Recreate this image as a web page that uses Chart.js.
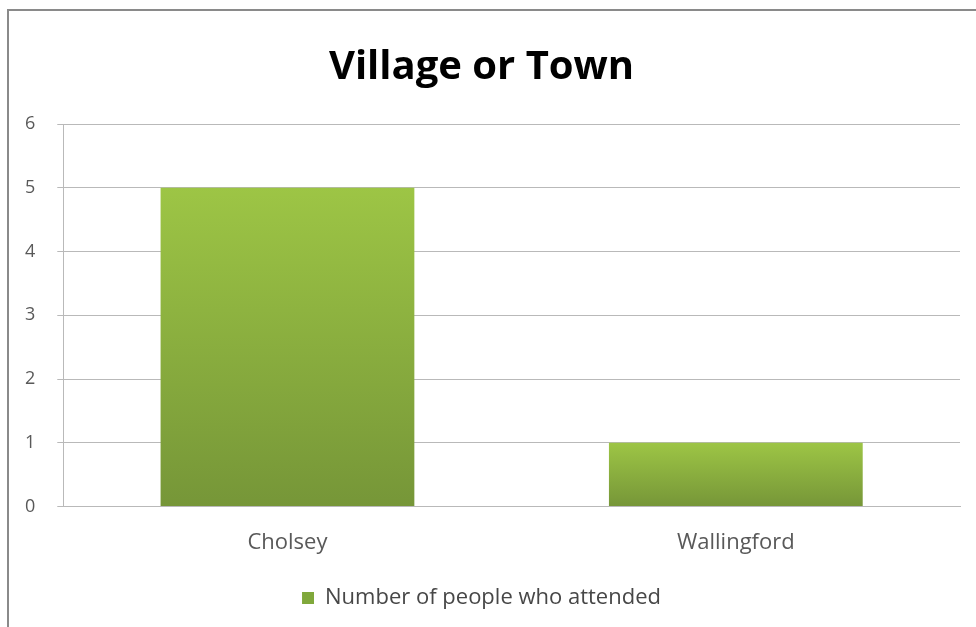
<!DOCTYPE html>
<html>
<head>
<meta charset="utf-8">
<title>Village or Town</title>
<script src="https://cdn.jsdelivr.net/npm/chart.js@4.4.1/dist/chart.umd.min.js"></script>
<style>
  html, body { margin: 0; padding: 0; background: #ffffff; }
  body { width: 976px; height: 627px; position: relative; overflow: hidden; }
  /* grey frame of the chart object, runs off the right and bottom edge */
  .frame {
    position: absolute; left: 7px; top: 9px; width: 1000px; height: 700px;
    border: 2px solid #8a8a8a; box-sizing: border-box;
  }
  .wrap { position: absolute; left: 0; top: 0; width: 976px; height: 627px; }
</style>
</head>
<body>
<div class="frame"></div>
<div class="wrap"><canvas id="chartVillage"></canvas></div>
<script>
// categories and values
const towns = ['Cholsey', 'Wallingford'];
const attended = [5, 1];
const seriesName = 'Number of people who attended';
const chartTitle = 'Village or Town';

const textGrey = '#595959';
const gridGrey = '#b9b9b9';

// each bar gets its own light-to-dark green gradient
function barFill(ctx) {
    const chart = ctx.chart;
    const y = chart.scales && chart.scales.y;
    if (!y || ctx.type !== 'data') return '#8cb03f';
    const top = y.getPixelForValue(ctx.raw);
    const base = y.getPixelForValue(0);
    if (!isFinite(top) || !isFinite(base) || top === base) return '#8cb03f';
    const g = chart.ctx.createLinearGradient(0, top, 0, base);
    g.addColorStop(0, '#9dc545');
    g.addColorStop(1, '#769638');
    return g;
}

Chart.defaults.font.family = "'Open Sans', Lato, sans-serif";
Chart.defaults.color = textGrey;

new Chart(document.getElementById('chartVillage'), {
    type: 'bar',
    data: {
        labels: towns,
        datasets: [{
            label: seriesName,
            data: attended,
            backgroundColor: barFill,
            borderWidth: 0,
            categoryPercentage: 0.566,
            barPercentage: 1
        }]
    },
    options: {
        responsive: true,
        maintainAspectRatio: false,
        animation: false,
        layout: { padding: { left: 3, right: 16, top: 0, bottom: 8 } },
        scales: {
            y: {
                min: 0, max: 6,
                ticks: { stepSize: 1, padding: 22, font: { size: 18 }, color: textGrey },
                grid: { color: gridGrey, tickLength: 6, lineWidth: 1 },
                border: { display: true, color: gridGrey }
            },
            x: {
                ticks: { padding: 15, font: { size: 22 }, color: textGrey },
                grid: { display: false },
                border: { display: true, color: gridGrey },
                // extra room between the town names and the legend
                afterFit: function(scale) { scale.height += 2; }
            }
        },
        plugins: {
            title: {
                display: true,
                text: chartTitle,
                color: '#000000',
                font: { size: 40, weight: 'bold' },
                padding: { top: 44, bottom: 32 }
            },
            legend: {
                position: 'bottom',
                labels: {
                    boxWidth: 12, boxHeight: 12,
                    color: '#474747',
                    font: { size: 22 },
                    padding: 14,
                    generateLabels: function(chart) {
                        return [{
                            text: seriesName,
                            fillStyle: '#80a83b',
                            strokeStyle: '#80a83b',
                            lineWidth: 0,
                            fontColor: '#474747',
                            datasetIndex: 0
                        }];
                    }
                }
            },
            tooltip: { enabled: false }
        }
    }
});
</script>
</body>
</html>
